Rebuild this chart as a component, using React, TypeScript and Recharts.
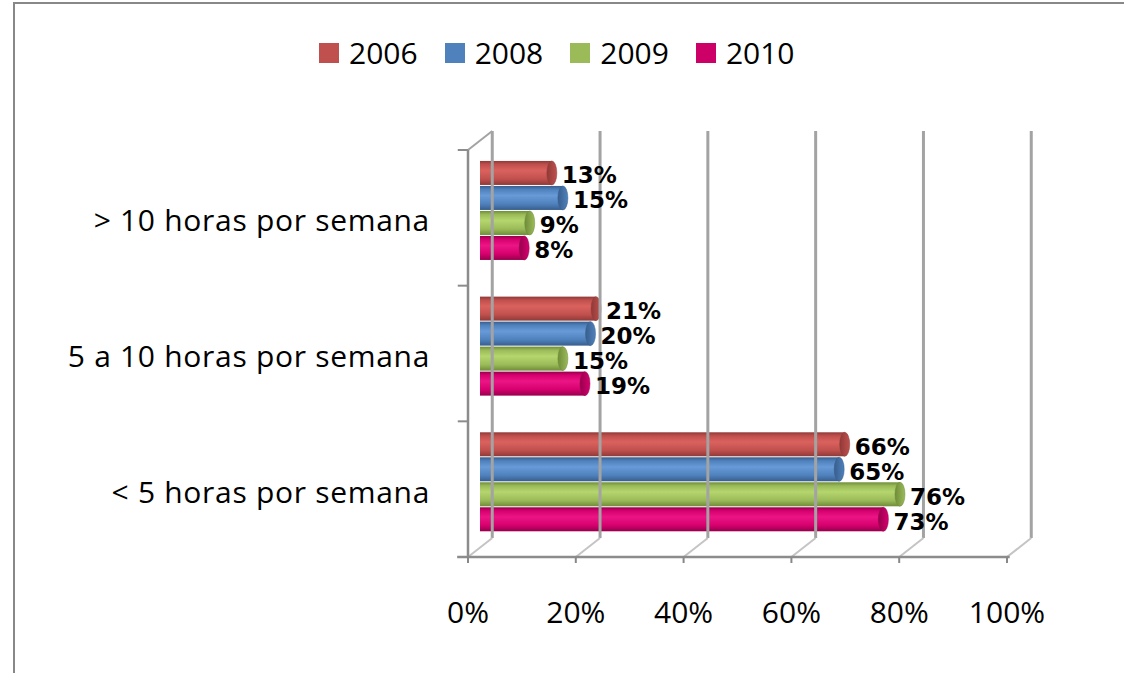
import React from 'react';
import { BarChart, Bar, XAxis, YAxis, ReferenceLine, LabelList } from 'recharts';

const categories = ['> 10 horas por semana', '5 a 10 horas por semana', '< 5 horas por semana'];
const years = ['2006', '2008', '2009', '2010'];
const values2006 = [13, 21, 66];
const values2008 = [15, 20, 65];
const values2009 = [9, 15, 76];
const values2010 = [8, 19, 73];
const xTicks = [0, 20, 40, 60, 80, 100];
// category band boundaries, counted from the top of the plot
const boundaryTicks = [0, 1, 2, 3];

const seriesValues = [values2006, values2008, values2009, values2010];
const colors = [
  { base: '#C0504D', light: '#DA625E', dark: '#8F3A38', legend: '#C0504D' },
  { base: '#4F81BD', light: '#679AD6', dark: '#385E8C', legend: '#4F81BD' },
  { base: '#9BBB59', light: '#B5D56E', dark: '#6F8C38', legend: '#9BBB59' },
  { base: '#D6006E', light: '#EC1585', dark: '#96004C', legend: '#CC0066' },
];

const data = categories.map((c, i) => {
  const row: Record<string, any> = { category: c, pos: i + 0.5 };
  years.forEach((y, s) => {
    row['y' + y] = seriesValues[s][i];
  });
  return row;
});

// 3D depth offsets (style)
const DX = 4.5;
const DY = 0.14;
const BOTTOM = 3;
const SHIFT = -6;

const Cylinder = (props: any) => {
  const { x, y, width, height, sIdx } = props;
  if (width == null || height == null || width <= 0) return null;
  const c = colors[sIdx];
  const h = height - 1;
  return (
    <g transform={`translate(0, ${SHIFT})`}>
      <rect x={x} y={y} width={width} height={h} fill={`url(#grad${sIdx})`} />
      <ellipse cx={x + width} cy={y + h / 2} rx={5} ry={h / 2} fill={`url(#cap${sIdx})`} stroke={c.dark} strokeWidth={0.5} />
    </g>
  );
};

const makeLabel = (sIdx: number) => (p: any) => {
  const { x, y, width, height, value } = p;
  return (
    <text
      x={x + width + 10}
      y={y + height / 2 + SHIFT + 2}
      dominantBaseline="central"
      fontFamily="DejaVu Sans"
      fontWeight="bold"
      fontSize={23}
      fill="#000"
    >
      {value}%
    </text>
  );
};

const seg = (x1: number, y1: number, x2: number, y2: number) => [
  { x: x1, y: y1 },
  { x: x2, y: y2 },
];

export default function App() {
  return (
    <div style={{ position: 'absolute', left: 0, top: 0, width: 1124, height: 673, overflow: 'hidden', background: '#fff' }}>
      <div
        style={{
          position: 'absolute',
          left: 13,
          top: 2,
          width: 1200,
          height: 800,
          borderLeft: '2px solid #888',
          borderTop: '2px solid #888',
        }}
      />
      <BarChart
        width={1124}
        height={673}
        layout="vertical"
        data={data}
        margin={{ top: 150, right: 117, bottom: 0, left: 0 }}
        barCategoryGap="12.5%"
        barGap={0}
        style={{ position: 'absolute', left: 0, top: 0 }}
      >
        <defs>
          {colors.map((c, i) => (
            <linearGradient key={'g' + i} id={'grad' + i} x1="0" y1="0" x2="0" y2="1">
              <stop offset="0%" stopColor={c.dark} />
              <stop offset="15%" stopColor={c.base} />
              <stop offset="40%" stopColor={c.light} />
              <stop offset="75%" stopColor={c.base} />
              <stop offset="100%" stopColor={c.dark} />
            </linearGradient>
          ))}
          {colors.map((c, i) => (
            <linearGradient key={'c' + i} id={'cap' + i} x1="0" y1="0" x2="1" y2="0">
              <stop offset="0%" stopColor={c.dark} />
              <stop offset="100%" stopColor={c.base} />
            </linearGradient>
          ))}
        </defs>
        <XAxis
          xAxisId="f"
          type="number"
          domain={[0, 100]}
          allowDataOverflow
          ticks={xTicks}
          interval={0}
          tickFormatter={(v: number) => v + '%'}
          height={116}
          axisLine={false}
          tickLine={{ stroke: '#888', strokeWidth: 2 }}
          tickSize={6}
          tickMargin={39}
          tick={{ fill: '#000', fontSize: 30, fontFamily: 'Open Sans' }}
        />
        <XAxis xAxisId="b" type="number" hide height={0} domain={[-2.17, 95.37]} allowDataOverflow />
        <YAxis
          yAxisId="c"
          type="category"
          dataKey="category"
          width={468}
          tickSize={0}
          tickLine={false}
          axisLine={false}
          tickMargin={38}
          interval={0}
          tick={{ fill: '#000', fontSize: 30, fontFamily: 'Open Sans', dy: 3, style: { letterSpacing: '0.7px' } }}
        />
        <YAxis yAxisId="num" type="number" dataKey="pos" hide width={0} domain={[0, BOTTOM]} allowDataOverflow />

        {xTicks.map((v) => (
          <ReferenceLine
            key={'bg' + v}
            xAxisId="f"
            yAxisId="num"
            ifOverflow="visible"
            segment={seg(v + DX, BOTTOM - DY, v + DX, -DY)}
            stroke="#A3A3A3"
            strokeWidth={3}
          />
        ))}
        {xTicks.map((v) => (
          <ReferenceLine
            key={'dg' + v}
            xAxisId="f"
            yAxisId="num"
            ifOverflow="visible"
            segment={seg(v, BOTTOM, v + DX, BOTTOM - DY)}
            stroke="#C4C4C4"
            strokeWidth={2}
          />
        ))}
        <ReferenceLine
          xAxisId="f"
          yAxisId="num"
          ifOverflow="visible"
          segment={seg(0, 0, DX, -DY)}
          stroke="#A3A3A3"
          strokeWidth={2}
        />
        <ReferenceLine
          xAxisId="f"
          yAxisId="num"
          ifOverflow="visible"
          segment={seg(0, 0, 0, BOTTOM)}
          stroke="#8C8C8C"
          strokeWidth={2.5}
        />
        <ReferenceLine
          xAxisId="f"
          yAxisId="num"
          ifOverflow="visible"
          segment={seg(-2, BOTTOM, 100.5, BOTTOM)}
          stroke="#8C8C8C"
          strokeWidth={2.5}
        />
        {boundaryTicks.map((k) => (
          <ReferenceLine
            key={'lt' + k}
            xAxisId="f"
            yAxisId="num"
            ifOverflow="visible"
            segment={seg(-1.9, k, 0, k)}
            stroke="#8C8C8C"
            strokeWidth={2}
          />
        ))}

        {years.map((yr, s) => (
          <Bar
            key={yr}
            dataKey={'y' + yr}
            name={yr}
            xAxisId="b"
            yAxisId="c"
            fill={colors[s].base}
            isAnimationActive={false}
            shape={(p: any) => <Cylinder {...p} sIdx={s} />}
          >
            <LabelList dataKey={'y' + yr} content={makeLabel(s)} />
          </Bar>
        ))}
      </BarChart>
      <div
        style={{
          position: 'absolute',
          left: 319,
          top: 33,
          display: 'flex',
          alignItems: 'center',
          fontFamily: 'Open Sans',
          fontSize: 30,
          color: '#000',
          lineHeight: '40px',
        }}
      >
        {years.map((yr, s) => (
          <div key={yr} style={{ display: 'flex', alignItems: 'center', marginRight: s < years.length - 1 ? 27 : 0 }}>
            <div style={{ width: 20, height: 20, background: colors[s].legend, marginRight: 10 }} />
            <span>{yr}</span>
          </div>
        ))}
      </div>
    </div>
  );
}
